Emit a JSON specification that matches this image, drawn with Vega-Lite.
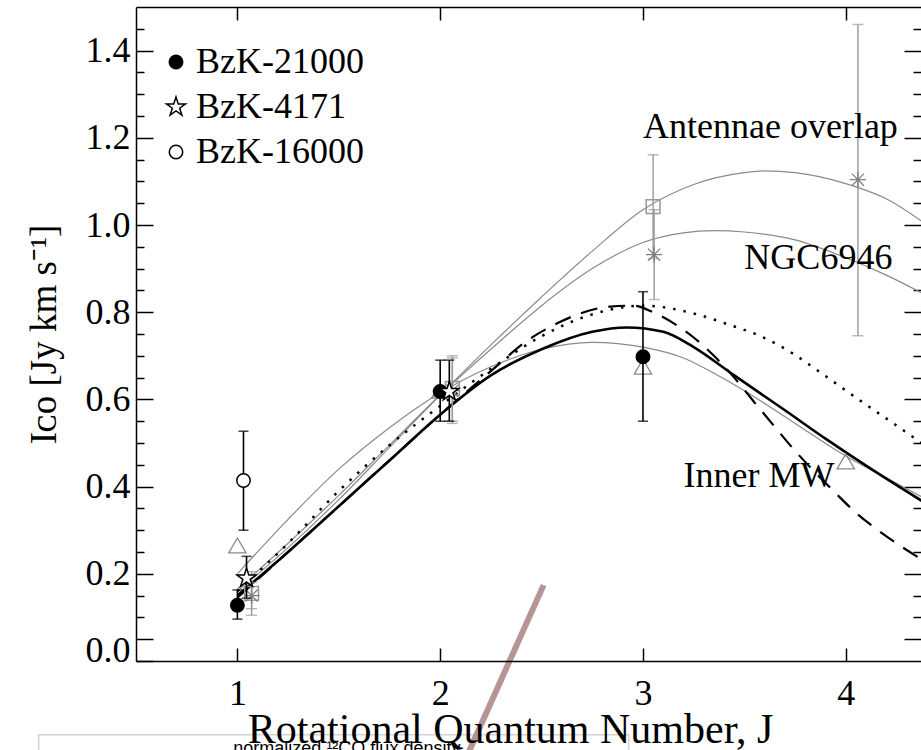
{
  "$schema": "https://vega.github.io/schema/vega-lite/v6.json",
  "width": 785,
  "height": 654,
  "autosize": {"type": "none"},
  "padding": {"left": 136, "top": 7, "right": 0, "bottom": 89},
  "background": "white",
  "config": {
    "view": {"stroke": null},
    "font": "Liberation Serif",
    "legend": {"orient": "none", "legendX": 22, "legendY": 37, "labelFont": "Liberation Serif", "labelFontSize": 36, "labelColor": "black", "symbolStrokeColor": "black", "symbolStrokeWidth": 1.5, "symbolSize": 180, "rowPadding": 9, "labelOffset": 2, "title": null, "labelLimit": 400}
  },
  "datasets": {
    "curves": [
      {"curve": "Antennae", "J": 1.0, "I": 0.16}, {"curve": "Antennae", "J": 1.25, "I": 0.26}, {"curve": "Antennae", "J": 1.5, "I": 0.37}, {"curve": "Antennae", "J": 1.75, "I": 0.49}, {"curve": "Antennae", "J": 2.0, "I": 0.61}, {"curve": "Antennae", "J": 2.25, "I": 0.725}, {"curve": "Antennae", "J": 2.5, "I": 0.835}, {"curve": "Antennae", "J": 2.75, "I": 0.94}, {"curve": "Antennae", "J": 3.0, "I": 1.035}, {"curve": "Antennae", "J": 3.25, "I": 1.093}, {"curve": "Antennae", "J": 3.5, "I": 1.12}, {"curve": "Antennae", "J": 3.6, "I": 1.124}, {"curve": "Antennae", "J": 3.75, "I": 1.12}, {"curve": "Antennae", "J": 4.0, "I": 1.095}, {"curve": "Antennae", "J": 4.2, "I": 1.06}, {"curve": "Antennae", "J": 4.4, "I": 1.0},
      {"curve": "NGC6946", "J": 1.0, "I": 0.165}, {"curve": "NGC6946", "J": 1.25, "I": 0.27}, {"curve": "NGC6946", "J": 1.5, "I": 0.38}, {"curve": "NGC6946", "J": 1.75, "I": 0.495}, {"curve": "NGC6946", "J": 2.0, "I": 0.61}, {"curve": "NGC6946", "J": 2.25, "I": 0.715}, {"curve": "NGC6946", "J": 2.5, "I": 0.815}, {"curve": "NGC6946", "J": 2.75, "I": 0.9}, {"curve": "NGC6946", "J": 3.0, "I": 0.96}, {"curve": "NGC6946", "J": 3.2, "I": 0.982}, {"curve": "NGC6946", "J": 3.35, "I": 0.987}, {"curve": "NGC6946", "J": 3.5, "I": 0.984}, {"curve": "NGC6946", "J": 3.75, "I": 0.966}, {"curve": "NGC6946", "J": 4.0, "I": 0.925}, {"curve": "NGC6946", "J": 4.2, "I": 0.885}, {"curve": "NGC6946", "J": 4.4, "I": 0.838},
      {"curve": "InnerMW", "J": 1.0, "I": 0.2}, {"curve": "InnerMW", "J": 1.25, "I": 0.325}, {"curve": "InnerMW", "J": 1.5, "I": 0.44}, {"curve": "InnerMW", "J": 1.75, "I": 0.535}, {"curve": "InnerMW", "J": 2.0, "I": 0.615}, {"curve": "InnerMW", "J": 2.25, "I": 0.675}, {"curve": "InnerMW", "J": 2.5, "I": 0.715}, {"curve": "InnerMW", "J": 2.75, "I": 0.731}, {"curve": "InnerMW", "J": 3.0, "I": 0.72}, {"curve": "InnerMW", "J": 3.2, "I": 0.695}, {"curve": "InnerMW", "J": 3.35, "I": 0.66}, {"curve": "InnerMW", "J": 3.5, "I": 0.62}, {"curve": "InnerMW", "J": 3.75, "I": 0.545}, {"curve": "InnerMW", "J": 4.0, "I": 0.47}, {"curve": "InnerMW", "J": 4.2, "I": 0.42}, {"curve": "InnerMW", "J": 4.4, "I": 0.37},
      {"curve": "solid", "J": 1.0, "I": 0.15}, {"curve": "solid", "J": 1.25, "I": 0.25}, {"curve": "solid", "J": 1.5, "I": 0.355}, {"curve": "solid", "J": 1.75, "I": 0.46}, {"curve": "solid", "J": 2.0, "I": 0.565}, {"curve": "solid", "J": 2.25, "I": 0.655}, {"curve": "solid", "J": 2.5, "I": 0.715}, {"curve": "solid", "J": 2.75, "I": 0.755}, {"curve": "solid", "J": 2.92, "I": 0.765}, {"curve": "solid", "J": 3.1, "I": 0.755}, {"curve": "solid", "J": 3.25, "I": 0.72}, {"curve": "solid", "J": 3.45, "I": 0.655}, {"curve": "solid", "J": 3.7, "I": 0.575}, {"curve": "solid", "J": 3.9, "I": 0.51}, {"curve": "solid", "J": 4.1, "I": 0.448}, {"curve": "solid", "J": 4.4, "I": 0.36},
      {"curve": "dashed", "J": 1.0, "I": 0.145}, {"curve": "dashed", "J": 1.25, "I": 0.25}, {"curve": "dashed", "J": 1.5, "I": 0.355}, {"curve": "dashed", "J": 1.75, "I": 0.46}, {"curve": "dashed", "J": 2.0, "I": 0.565}, {"curve": "dashed", "J": 2.25, "I": 0.665}, {"curve": "dashed", "J": 2.43, "I": 0.735}, {"curve": "dashed", "J": 2.58, "I": 0.775}, {"curve": "dashed", "J": 2.69, "I": 0.797}, {"curve": "dashed", "J": 2.84, "I": 0.813}, {"curve": "dashed", "J": 2.95, "I": 0.815}, {"curve": "dashed", "J": 3.05, "I": 0.8}, {"curve": "dashed", "J": 3.15, "I": 0.775}, {"curve": "dashed", "J": 3.25, "I": 0.742}, {"curve": "dashed", "J": 3.35, "I": 0.7}, {"curve": "dashed", "J": 3.45, "I": 0.65}, {"curve": "dashed", "J": 3.55, "I": 0.593}, {"curve": "dashed", "J": 3.65, "I": 0.537}, {"curve": "dashed", "J": 3.75, "I": 0.482}, {"curve": "dashed", "J": 3.85, "I": 0.432}, {"curve": "dashed", "J": 3.95, "I": 0.385}, {"curve": "dashed", "J": 4.05, "I": 0.34}, {"curve": "dashed", "J": 4.15, "I": 0.303}, {"curve": "dashed", "J": 4.25, "I": 0.27}, {"curve": "dashed", "J": 4.35, "I": 0.24}, {"curve": "dashed", "J": 4.45, "I": 0.212},
      {"curve": "dotted", "J": 1.0, "I": 0.16}, {"curve": "dotted", "J": 1.25, "I": 0.27}, {"curve": "dotted", "J": 1.5, "I": 0.39}, {"curve": "dotted", "J": 1.75, "I": 0.495}, {"curve": "dotted", "J": 2.0, "I": 0.585}, {"curve": "dotted", "J": 2.25, "I": 0.67}, {"curve": "dotted", "J": 2.5, "I": 0.745}, {"curve": "dotted", "J": 2.75, "I": 0.795}, {"curve": "dotted", "J": 3.0, "I": 0.815}, {"curve": "dotted", "J": 3.25, "I": 0.797}, {"curve": "dotted", "J": 3.42, "I": 0.772}, {"curve": "dotted", "J": 3.58, "I": 0.745}, {"curve": "dotted", "J": 3.74, "I": 0.705}, {"curve": "dotted", "J": 3.85, "I": 0.67}, {"curve": "dotted", "J": 3.95, "I": 0.637}, {"curve": "dotted", "J": 4.1, "I": 0.588}, {"curve": "dotted", "J": 4.25, "I": 0.54}, {"curve": "dotted", "J": 4.45, "I": 0.475}
    ],
    "bzk": [
      {"src": "BzK-21000", "J": 1.0, "I": 0.128, "lo": 0.096, "hi": 0.163},
      {"src": "BzK-21000", "J": 2.0, "I": 0.618, "lo": 0.55, "hi": 0.69},
      {"src": "BzK-21000", "J": 3.0, "I": 0.698, "lo": 0.55, "hi": 0.847},
      {"src": "BzK-4171", "J": 1.045, "I": 0.19, "lo": 0.144, "hi": 0.24},
      {"src": "BzK-4171", "J": 2.045, "I": 0.618, "lo": 0.55, "hi": 0.69},
      {"src": "BzK-16000", "J": 1.03, "I": 0.414, "lo": 0.3, "hi": 0.527}
    ],
    "gray": [
      {"grp": "InnerMW", "J": 1.0, "I": 0.265},
      {"grp": "InnerMW", "J": 2.0, "I": 0.62},
      {"grp": "InnerMW", "J": 3.0, "I": 0.675},
      {"grp": "InnerMW", "J": 4.0, "I": 0.458},
      {"grp": "Antennae", "J": 1.07, "I": 0.155, "lo": 0.105, "hi": 0.205},
      {"grp": "Antennae", "J": 2.06, "I": 0.625, "lo": 0.55, "hi": 0.7},
      {"grp": "Antennae", "J": 3.05, "I": 1.042, "lo": 0.923, "hi": 1.161},
      {"grp": "NGC6946", "J": 1.07, "I": 0.15, "lo": 0.12, "hi": 0.18},
      {"grp": "NGC6946", "J": 2.06, "I": 0.62, "lo": 0.545, "hi": 0.695},
      {"grp": "NGC6946", "J": 3.055, "I": 0.932, "lo": 0.829, "hi": 1.035},
      {"grp": "NGC6946", "J": 4.06, "I": 1.104, "lo": 0.746, "hi": 1.46}
    ],
    "labels": [
      {"label": "Antennae overlap", "J": 3.0, "I": 1.2},
      {"label": "NGC6946", "J": 3.5, "I": 0.9},
      {"label": "Inner MW", "J": 3.2, "I": 0.398}
    ]
  },
  "layer": [
    {
      "data": {"name": "curves"},
      "transform": [{"filter": "indexof(['Antennae','NGC6946','InnerMW'], datum.curve) >= 0"}],
      "mark": {"type": "line", "color": "#8a8a8a", "strokeWidth": 1.2, "interpolate": "monotone", "clip": true},
      "encoding": {
        "detail": {"field": "curve"},
        "x": {"field": "J", "type": "quantitative", "scale": {"domain": [0.5, 4.371], "nice": false, "zero": false},
          "axis": {"orient": "bottom", "zindex": 1, "values": [1, 2, 3, 4], "format": "d", "grid": false, "tickSize": -13, "tickWidth": 1.5, "tickColor": "black", "domainColor": "black", "domainWidth": 1.5, "labelFont": "Liberation Serif", "labelFontSize": 36, "labelColor": "black", "labelPadding": 28, "labelFlush": false, "labelOverlap": false, "title": "Rotational Quantum Number, J", "titleFont": "Liberation Serif", "titleFontSize": 42, "titleFontWeight": "normal", "titleColor": "black", "titlePadding": -2, "titleX": 374}},
        "y": {"field": "I", "type": "quantitative", "scale": {"domain": [0, 1.5], "nice": false, "zero": false},
          "axis": {"orient": "left", "values": [0, 0.05, 0.1, 0.15, 0.2, 0.25, 0.3, 0.35, 0.4, 0.45, 0.5, 0.55, 0.6, 0.65, 0.7, 0.75, 0.8, 0.85, 0.9, 0.95, 1.0, 1.05, 1.1, 1.15, 1.2, 1.25, 1.3, 1.35, 1.4, 1.45], "grid": false,
            "tickSize": {"condition": {"test": "abs(datum.value*5 - round(datum.value*5)) < 0.001 || abs(datum.value - 0.05) < 0.001", "value": -17}, "value": -8},
            "tickWidth": 1.5, "tickColor": "black", "domainColor": "black", "domainWidth": 1.5,
            "labelExpr": "abs(datum.value*5 - round(datum.value*5)) < 0.001 ? format(datum.value, '.1f') : ''",
            "labelOffset": {"condition": {"test": "datum.value < 0.01", "value": -11}, "value": 0},
            "labelFont": "Liberation Serif", "labelFontSize": 36, "labelColor": "black", "labelPadding": 23, "labelOverlap": false, "labelFlush": false,
            "title": "Iᴄᴏ [Jy km s⁻¹]", "titleFont": "Liberation Serif", "titleFontSize": 37, "titleFontWeight": "normal", "titleColor": "black", "titlePadding": 22}}
      }
    },
    {
      "data": {"name": "curves"},
      "transform": [{"filter": "datum.curve == 'solid'"}],
      "mark": {"type": "line", "color": "black", "strokeWidth": 2.6, "interpolate": "monotone", "clip": true},
      "encoding": {
        "x": {"field": "J", "type": "quantitative", "scale": {"domain": [0.5, 4.371], "nice": false, "zero": false},
          "axis": {"orient": "top", "values": [1, 2, 3, 4], "grid": false, "labels": false, "title": null, "tickSize": -13, "tickWidth": 1.5, "tickColor": "black", "domainColor": "black", "domainWidth": 1.5}},
        "y": {"field": "I", "type": "quantitative", "scale": {"domain": [0, 1.5], "nice": false, "zero": false},
          "axis": {"orient": "right", "values": [0.05, 0.1, 0.15, 0.2, 0.25, 0.3, 0.35, 0.4, 0.45, 0.5, 0.55, 0.6, 0.65, 0.7, 0.75, 0.8, 0.85, 0.9, 0.95, 1.0, 1.05, 1.1, 1.15, 1.2, 1.25, 1.3, 1.35, 1.4, 1.45], "grid": false, "labels": false, "title": null, "domain": false,
            "tickSize": {"condition": {"test": "abs(datum.value*5 - round(datum.value*5)) < 0.001 || abs(datum.value - 0.05) < 0.001", "value": -17}, "value": -8},
            "tickWidth": 1.5, "tickColor": "black"}}
      }
    },
    {
      "data": {"name": "curves"},
      "transform": [{"filter": "datum.curve == 'dashed'"}],
      "mark": {"type": "line", "color": "black", "strokeWidth": 2.2, "strokeDash": [17, 11], "interpolate": "monotone", "clip": true},
      "encoding": {
        "x": {"field": "J", "type": "quantitative", "axis": null},
        "y": {"field": "I", "type": "quantitative", "axis": null}
      }
    },
    {
      "data": {"name": "curves"},
      "transform": [{"filter": "datum.curve == 'dotted'"}],
      "mark": {"type": "line", "color": "black", "strokeWidth": 2.5, "strokeDash": [2.5, 8], "interpolate": "monotone", "clip": true},
      "encoding": {
        "x": {"field": "J", "type": "quantitative", "axis": null},
        "y": {"field": "I", "type": "quantitative", "axis": null}
      }
    },
    {
      "data": {"name": "gray"},
      "transform": [{"filter": "isValid(datum.hi)"}],
      "mark": {"type": "errorbar", "color": "#999999", "thickness": 1.4, "ticks": {"size": 11}},
      "encoding": {
        "x": {"field": "J", "type": "quantitative", "axis": null},
        "y": {"field": "lo", "type": "quantitative", "axis": null},
        "y2": {"field": "hi"}
      }
    },
    {
      "data": {"name": "gray"},
      "transform": [{"filter": "datum.grp == 'InnerMW'"}],
      "mark": {"type": "point", "shape": "triangle-up", "size": 300, "stroke": "#8a8a8a", "strokeWidth": 1.3, "filled": false, "opacity": 1},
      "encoding": {
        "x": {"field": "J", "type": "quantitative", "axis": null},
        "y": {"field": "I", "type": "quantitative", "axis": null}
      }
    },
    {
      "data": {"name": "gray"},
      "transform": [{"filter": "datum.grp == 'Antennae'"}],
      "mark": {"type": "point", "shape": "square", "size": 190, "stroke": "#999999", "strokeWidth": 1.5, "filled": false, "opacity": 1},
      "encoding": {
        "x": {"field": "J", "type": "quantitative", "axis": null},
        "y": {"field": "I", "type": "quantitative", "axis": null}
      }
    },
    {
      "data": {"name": "gray"},
      "transform": [{"filter": "datum.grp == 'NGC6946'"}],
      "mark": {"type": "point", "shape": "M-1,0L1,0M0,-1L0,1M-0.75,-0.75L0.75,0.75M-0.75,0.75L0.75,-0.75", "size": 260, "stroke": "#808080", "strokeWidth": 1.3, "filled": false, "opacity": 1},
      "encoding": {
        "x": {"field": "J", "type": "quantitative", "axis": null},
        "y": {"field": "I", "type": "quantitative", "axis": null}
      }
    },
    {
      "data": {"name": "bzk"},
      "mark": {"type": "errorbar", "color": "black", "thickness": 1.6, "ticks": {"size": 10}},
      "encoding": {
        "x": {"field": "J", "type": "quantitative", "axis": null},
        "y": {"field": "lo", "type": "quantitative", "axis": null},
        "y2": {"field": "hi"}
      }
    },
    {
      "data": {"name": "bzk"},
      "mark": {"type": "point", "strokeWidth": 1.5, "opacity": 1, "size": 180},
      "encoding": {
        "x": {"field": "J", "type": "quantitative", "axis": null},
        "y": {"field": "I", "type": "quantitative", "axis": null},
        "shape": {"field": "src", "type": "nominal", "scale": {"domain": ["BzK-21000", "BzK-4171", "BzK-16000"], "range": ["circle", "M0,-1.5L0.337,-0.464L1.427,-0.464L0.545,0.177L0.882,1.214L0,0.573L-0.882,1.214L-0.545,0.177L-1.427,-0.464L-0.337,-0.464Z", "circle"]}},
        "fill": {"field": "src", "type": "nominal", "scale": {"domain": ["BzK-21000", "BzK-4171", "BzK-16000"], "range": ["black", "white", "white"]}},
        "stroke": {"field": "src", "type": "nominal", "scale": {"domain": ["BzK-21000", "BzK-4171", "BzK-16000"], "range": ["black", "black", "black"]}}
      }
    },
    {
      "data": {"name": "labels"},
      "mark": {"type": "text", "align": "left", "baseline": "alphabetic", "font": "Liberation Serif", "fontSize": 36, "color": "black"},
      "encoding": {
        "x": {"field": "J", "type": "quantitative", "axis": null},
        "y": {"field": "I", "type": "quantitative", "axis": null},
        "text": {"field": "label"}
      }
    },
    {
      "data": {"values": [{"a": 1}]},
      "mark": {"type": "rect", "fill": "white", "stroke": "#d4d4d4", "strokeWidth": 1.5, "clip": false},
      "encoding": {
        "x": {"datum": 0.02, "type": "quantitative", "axis": null},
        "x2": {"datum": 2.93},
        "y": {"datum": -0.169, "type": "quantitative", "axis": null},
        "y2": {"datum": -0.3}
      }
    },
    {
      "data": {"values": [{"a": 1}]},
      "mark": {"type": "text", "align": "left", "baseline": "alphabetic", "font": "Liberation Sans", "fontSize": 18, "color": "black", "text": "normalized  ¹²CO  flux  density", "clip": false},
      "encoding": {
        "x": {"datum": 0.98, "type": "quantitative", "axis": null},
        "y": {"datum": -0.213, "type": "quantitative", "axis": null}
      }
    },
    {
      "data": {"values": [{"a": 1}]},
      "mark": {"type": "rule", "color": "#b08a8a", "strokeWidth": 6, "opacity": 0.9, "clip": false},
      "encoding": {
        "x": {"datum": 2.51, "type": "quantitative", "axis": null},
        "y": {"datum": 0.174, "type": "quantitative", "axis": null},
        "x2": {"datum": 2.13},
        "y2": {"datum": -0.22}
      }
    }
  ],
  "resolve": {"axis": {"x": "independent", "y": "independent"}}
}
